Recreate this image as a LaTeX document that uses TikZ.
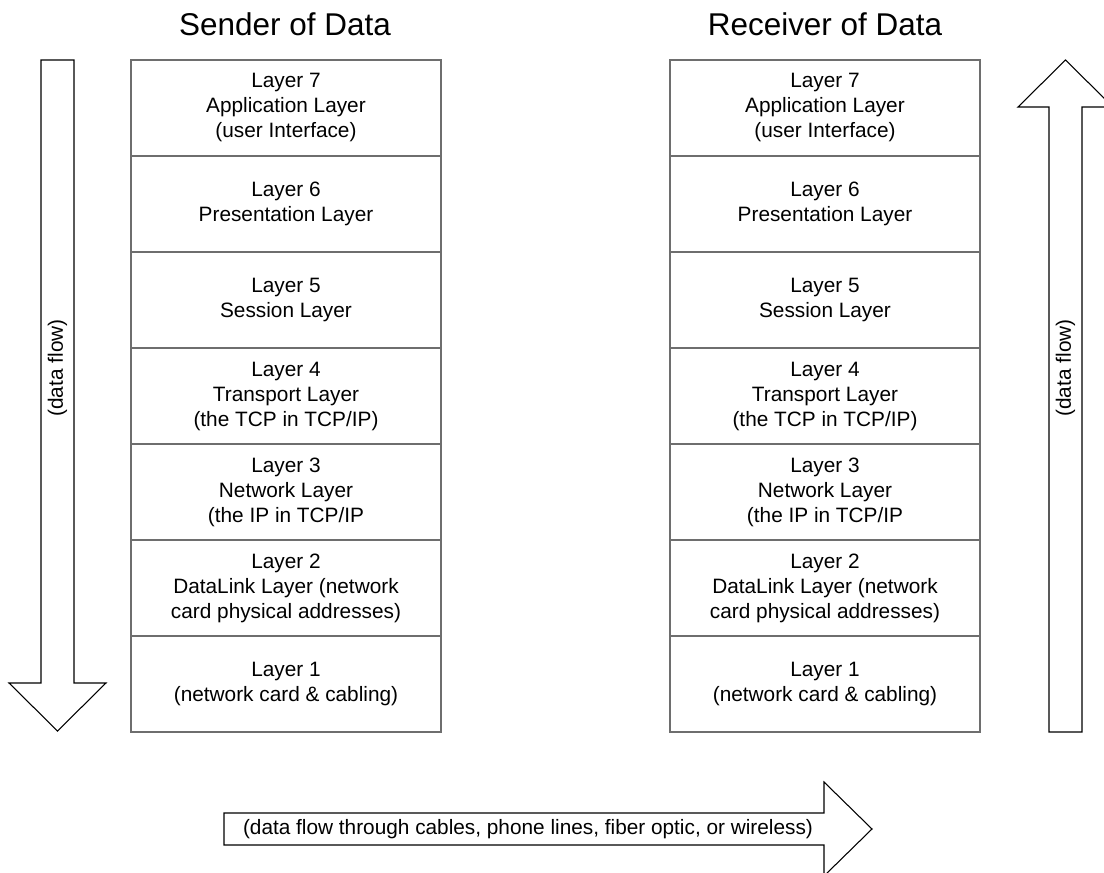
\documentclass[tikz,border=0pt]{standalone}
\usepackage{fontspec}
\setmainfont{Liberation Sans}
\begin{document}
\begin{tikzpicture}[x=0.75pt,y=-0.75pt,
  layerbox/.style={draw={rgb,255:red,110;green,110;blue,110}, line width=1.5pt,
    minimum width=233pt, minimum height=72pt, inner sep=0pt, outer sep=0pt,
    align=center, font=\fontsize{15.6}{18.75}\selectfont},
  title/.style={font=\fontsize{23.6}{28}\selectfont, inner sep=0pt},
  flowarrow/.style={draw=black, line width=0.8pt, fill=white, line join=miter},
  flowtext/.style={font=\fontsize{15.6}{18.75}\selectfont, inner sep=0pt}]
\useasboundingbox (0,0) rectangle (1104,873);
\clip (0,0) rectangle (1104,873);

% column titles
\node[title] (sendtitle) at (285,24) {Sender of Data};
\node[title] (recvtitle) at (825,24) {Receiver of Data};

% sender stack
\node[layerbox] (s7) at (286,108) {Layer 7\\Application Layer\\(user Interface)};
\node[layerbox] (s6) at (286,204) {Layer 6\\Presentation Layer};
\node[layerbox] (s5) at (286,300) {Layer 5\\Session Layer};
\node[layerbox] (s4) at (286,396) {Layer 4\\Transport Layer\\(the TCP in TCP/IP)};
\node[layerbox] (s3) at (286,492) {Layer 3\\Network Layer\\(the IP in TCP/IP};
\node[layerbox] (s2) at (286,588) {Layer 2\\DataLink Layer (network\\card physical addresses)};
\node[layerbox] (s1) at (286,684) {Layer 1\\(network card \& cabling)};

% receiver stack
\node[layerbox] (r7) at (825,108) {Layer 7\\Application Layer\\(user Interface)};
\node[layerbox] (r6) at (825,204) {Layer 6\\Presentation Layer};
\node[layerbox] (r5) at (825,300) {Layer 5\\Session Layer};
\node[layerbox] (r4) at (825,396) {Layer 4\\Transport Layer\\(the TCP in TCP/IP)};
\node[layerbox] (r3) at (825,492) {Layer 3\\Network Layer\\(the IP in TCP/IP};
\node[layerbox] (r2) at (825,588) {Layer 2\\DataLink Layer (network\\card physical addresses)};
\node[layerbox] (r1) at (825,684) {Layer 1\\(network card \& cabling)};

% downward flow on the sending side
\draw[flowarrow] (41,60) -- (74,60) -- (74,683) -- (106,683) -- (57.5,731)
  -- (9,683) -- (41,683) -- cycle;
\node[flowtext, rotate=90] (downlabel) at (57.5,368) {(data flow)};

% upward flow on the receiving side
\draw[flowarrow] (1049,732) -- (1082,732) -- (1082,107) -- (1113,107) -- (1065.5,60)
  -- (1018,107) -- (1049,107) -- cycle;
\node[flowtext, rotate=90] (uplabel) at (1065.5,368) {(data flow)};

% physical medium between the two hosts
\draw[flowarrow] (224,813) -- (824,813) -- (824,782) -- (872,829) -- (824,876)
  -- (824,845) -- (224,845) -- cycle;
\node[flowtext] (medium) at (528,829)
  {(data flow through cables, phone lines, fiber optic, or wireless)};
\end{tikzpicture}
\end{document}
